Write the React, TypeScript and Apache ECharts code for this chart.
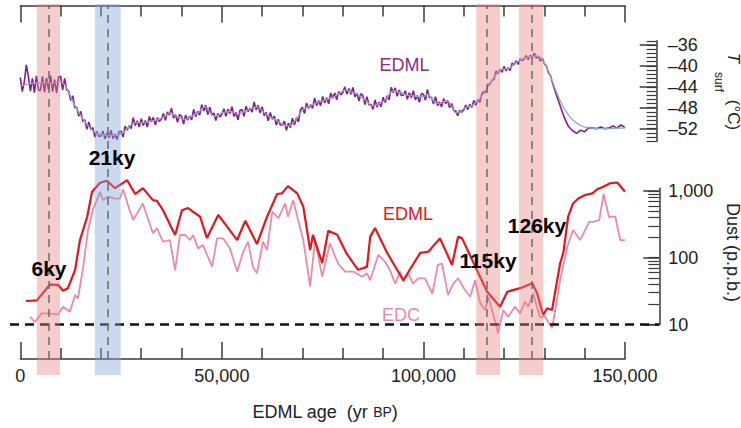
import React, { useEffect, useRef } from "react";
import * as echarts from "echarts";

// ---------- DATA ----------
// x axis (years BP)
const xTickValues = [0, 50000, 100000, 150000];
const xTickLabels = ["0", "50,000", "100,000", "150,000"];

// Temperature axis
const tempLabelValues = [-52, -48, -44, -40, -36];

// Dust axis
const dustMinorTicks = [10, 20, 30, 40, 50, 60, 70, 80, 90, 100, 200, 300, 400, 500, 600, 700, 800, 900, 1000];
const dustLabelValues = [10, 100, 1000];
const dustLabelText = ["10", "100", "1,000"];

// EDML surface temperature, high resolution, 0.5 kyr steps from 0 to 131.5 kyr
const tempFineStartKyr = 0;
const tempFineStepKyr = 0.5;
const tempFine = [
  -42.2, -44.9, -43.0, -39.8, -42.0, -44.8, -42.4, -45.1, -41.9, -44.6,
  -44.7, -42.0, -45.0, -42.3, -44.6, -41.8, -44.9, -42.6, -45.2, -42.1,
  -42.0, -44.6, -42.4, -44.6, -44.8, -46.6, -45.7, -48.0, -47.9, -49.6,
  -48.7, -50.6, -50.3, -52.1, -50.7, -52.2, -51.8, -53.6, -52.5, -53.5,
  -53.4, -52.45, -54.0, -52.8, -53.8, -52.3, -53.9, -53.05, -54.1, -52.55,
  -52.5, -53.6, -51.5, -52.3, -51.4, -52.0, -49.9, -51.4, -50.5, -51.65,
  -50.1, -51.4, -50.45, -51.7, -49.7, -50.7, -49.85, -51.3, -49.9, -50.6,
  -50.2, -49.1, -50.4, -48.8, -49.4, -48.1, -50.0, -49.3, -50.8, -49.3,
  -49.6, -51.1, -49.4, -50.35, -49.6, -50.3, -48.3, -49.7, -48.7, -49.4,
  -47.4, -48.6, -47.5, -49.3, -47.9, -49.4, -49.0, -50.45, -49.1, -49.75,
  -49.3, -48.2, -49.65, -48.3, -49.1, -47.8, -49.65, -48.9, -50.3, -48.45,
  -48.4, -49.65, -47.7, -48.75, -48.1, -48.85, -46.9, -48.4, -47.5, -49.0,
  -47.8, -49.5, -48.9, -50.5, -48.9, -50.2, -49.6, -51.3, -50.2, -51.3,
  -51.3, -50.55, -52.3, -50.95, -51.8, -50.0, -51.3, -49.9, -50.7, -48.4,
  -47.9, -49.1, -47.1, -48.1, -47.4, -48.1, -46.15, -47.6, -46.6, -47.6,
  -45.85, -47.1, -46.1, -47.25, -45.2, -46.15, -45.2, -46.45, -44.9, -45.55,
  -45.1, -44.0, -45.4, -44.3, -45.4, -44.1, -45.9, -45.2, -46.7, -45.3,
  -45.7, -47.4, -45.9, -47.5, -47.4, -48.3, -46.5, -47.9, -46.9, -47.8,
  -46.0, -47.0, -45.7, -46.5, -44.1, -45.1, -44.2, -45.8, -44.6, -45.65,
  -45.6, -44.75, -46.4, -45.15, -46.1, -44.75, -46.5, -45.65, -46.95, -45.3,
  -45.4, -46.55, -44.5, -46.1, -46.0, -47.3, -45.9, -47.6, -46.9, -47.8,
  -46.25, -47.2, -46.6, -48.0, -47.2, -48.55, -48.6, -49.5, -48.5, -48.85,
  -48.4, -47.5, -48.35, -47.35, -47.9, -46.6, -47.5, -46.45, -46.95, -45.3,
  -44.9, -45.15, -43.45, -43.6, -42.7, -42.6, -40.95, -41.5, -40.6, -41.2,
  -40.1, -40.95, -40.4, -40.9, -39.45, -39.8, -39.05, -39.7, -38.65, -39.0,
  -38.7, -38.0, -38.8, -37.95, -38.45, -37.55, -38.5, -38.15, -39.05, -38.55,
  -39.6, -40.0, -41.3, -41.8,
];
// EDML surface temperature, lower resolution, 1 kyr steps from 132 to 150 kyr
const tempCoarseStartKyr = 132;
const tempCoarseStepKyr = 1;
const tempCoarse = [
  -43.2, -45.6, -47.8, -50.0, -51.6, -52.4, -52.9, -52.3, -52.6, -51.8,
  -51.9, -52.0, -51.7, -52.0, -51.9, -51.5, -51.9, -51.3, -51.8,
];

// Smoothed temperature curve
const tempSmoothAge = [
  0, 2, 4, 6, 8, 10, 11, 12, 13, 14, 15, 16, 17, 18, 19, 20, 21, 22, 23, 24, 25, 26, 27, 28, 29, 30,
  32, 34, 36, 37, 38, 40, 41, 42, 44, 45, 46, 47, 48, 49, 50, 52, 54, 56, 58, 59, 60, 62, 64, 66,
  67, 68, 69, 70, 71, 72, 74, 76, 78, 80, 81, 82, 83, 84, 86, 87, 88, 89, 90, 91, 92, 93, 94, 95,
  96, 98, 100, 101, 102, 103, 104, 105, 106, 107, 108, 109, 110, 111, 112, 113, 114, 115, 116, 117,
  118, 119, 120, 121, 122, 123, 124, 125, 126, 127, 128, 129, 130, 131, 132, 133, 134, 135, 136,
  137, 138, 139, 140, 142, 144, 146, 148, 150,
];
const tempSmoothVal = [
  -43.8, -43.5, -43.2, -43.2, -43.3, -43.0, -43.6, -45.0, -46.8, -48.2, -49.5, -50.6, -51.6, -52.4,
  -52.9, -53.1, -53.2, -53.4, -53.2, -53.3, -53.0, -52.4, -51.6, -51.0, -50.8, -50.9,
  -50.6, -50.3, -49.6, -49.0, -49.3, -50.1, -50.3, -49.8, -49.0, -48.2, -47.8, -48.8, -49.6, -49.5,
  -49.0, -48.7, -49.2, -48.6, -48.0, -47.8, -48.6, -49.8, -50.6, -51.5,
  -51.4, -50.6, -49.6, -48.4, -48.0, -47.6, -46.9, -46.4, -45.8, -44.8, -44.6, -45.0, -45.2, -45.6,
  -46.8, -47.6, -47.6, -47.2, -46.8, -46.0, -45.0, -44.8, -45.0, -45.3,
  -45.6, -45.8, -45.9, -45.4, -46.2, -47.0, -47.2, -46.8, -46.8, -47.8, -49.0, -48.8, -48.2, -47.8,
  -47.6, -47.0, -46.2, -45.2, -44.0, -42.8,
  -41.6, -40.8, -40.6, -40.6, -40.0, -39.4, -38.9, -38.5, -38.3, -38.2, -38.1, -38.4, -39.4, -41.0,
  -43.0, -45.0, -46.8, -48.2, -49.4,
  -50.3, -50.9, -51.4, -51.7, -51.9, -52.0, -52.0, -51.9, -51.9,
];

// Dust EDML (p.p.b.)
const dustEdmlAge = [
  1.4, 4.1, 7.4, 9.4, 10.6, 11.8, 13.6, 14.8, 16.6, 17.8, 19.8, 21.5, 23.5, 26.5, 28.5, 30.4, 32.9,
  33.9, 35.4, 38.4, 40.1, 41.6, 44.6, 46.3, 49.1, 51.3, 53.8, 55.8, 58.7, 61.2, 63.7, 64.9, 66.4,
  68.7, 70.2, 71.9, 72.6, 74.9, 76.4, 78.6, 80.9, 82.6, 83.8, 86.0, 86.8, 88.0, 91.0, 95.0, 99.2,
  101.2, 104.1, 107.1, 108.6, 109.6, 112.1, 115.8, 119.0, 120.8, 124.0, 127.0, 128.2, 129.7, 130.7,
  131.9, 133.9, 134.7, 135.9, 137.1, 138.4, 140.1, 141.9, 143.1, 144.6, 146.3, 148.1, 150.0,
];
const dustEdmlVal = [
  22.5, 23, 40, 39, 32, 35, 66, 184, 411, 975, 1330, 1420, 1100, 1450, 900, 1100, 730,
  710, 515, 219, 515, 555, 411, 197, 436, 292, 184, 357, 160, 411, 900, 920, 1180,
  920, 580, 130, 220, 83, 254, 220, 117, 83, 66, 73, 207, 278, 118, 46, 118,
  123, 195, 78, 207, 195, 92, 31, 18.5, 31, 35, 41.5, 29.3, 13.9, 17.5,
  16.5, 82, 118, 411, 650, 770, 870, 920, 1060, 1160, 1300, 1340, 975,
];

// Dust EDC (p.p.b.)
const dustEdcAge = [
  2.4, 3.6, 5.3, 6.9, 9.4, 10.6, 12.3, 13.6, 14.3, 15.6, 16.8, 18.0, 19.8, 20.5, 21.8, 23.5, 24.7,
  25.5, 26.7, 28.0, 30.4, 32.9, 33.9, 35.4, 37.1, 38.4, 39.6, 40.9, 42.1, 42.9, 44.1, 45.3, 47.6,
  48.8, 50.3, 52.0, 53.8, 55.3, 56.5, 57.7, 58.7, 60.2, 61.2, 62.5, 64.0, 65.7, 66.4, 67.7, 68.9,
  70.2, 71.9, 73.1, 74.9, 76.8, 78.8, 80.6, 82.6, 84.8, 86.0, 86.8, 88.8, 90.5, 91.7, 93.0, 94.2,
  95.0, 96.2, 97.4, 98.7, 100.4, 102.2, 103.6, 104.6, 106.1, 107.4, 108.6, 110.3, 111.6, 112.8,
  114.1, 115.3, 116.1, 117.8, 118.5, 119.8, 121.0, 122.7, 124.0, 125.2, 126.0, 127.2, 128.9, 130.2,
  131.9, 132.7, 133.9, 135.7, 137.1, 138.9, 141.1, 142.1, 143.6, 144.7, 146.0, 147.6, 148.8, 150.0,
];
const dustEdcVal = [
  13.1, 10.9, 14.7, 14.7, 14.2, 18.5, 15.5, 27.6, 24.6, 73, 260, 520, 970, 730, 820, 770, 770,
  1060, 615, 366, 650, 232, 275, 174, 184, 65, 219, 219, 184, 219, 138, 155, 73,
  195, 195, 138, 62, 123, 174, 73, 58.5, 174, 130, 490, 390, 650, 411, 730, 366,
  184, 36.8, 184, 52, 164, 82, 62, 62, 52, 58.5, 46, 110, 87, 65, 41, 62,
  44, 58.5, 41, 49, 49, 29, 78, 82, 27.6, 41, 49, 32.8, 26, 46,
  20.7, 16.5, 26, 11, 7.4, 16.5, 13, 18.5, 14.7, 22, 18.5, 29, 13, 13,
  8.8, 16.5, 46, 146, 260, 184, 345, 345, 366, 900, 411, 411, 184, 184,
];

// Highlighted periods (kyr)
const bandFrom = [4.1, 18.5, 113.1, 123.7];
const bandTo = [9.85, 24.9, 119.0, 129.7];
const bandKind = ["warm", "cold", "warm", "warm"];
const eventAges = [7.0, 21.7, 115.7, 126.8];
const dustReference = 10;

// ---------- STYLE ----------
const FONT = '"Liberation Sans", Arial, Helvetica, sans-serif';
const AXIS = "#3a3a3a";
const TXT = "#222";
const PURPLE = "#8a1c86";
const SMOOTH = "#8fa6cf";
const RED = "#e3161d";
const PINK = "#ec8aa8";

const KYR = 1000;
const PX_PER_YR = 604.7 / 150000;

function buildOption() {
  const fine = tempFine.map((v, i) => [(tempFineStartKyr + i * tempFineStepKyr) * KYR, v]);
  const coarse = tempCoarse.map((v, i) => [(tempCoarseStartKyr + i * tempCoarseStepKyr) * KYR, v]);
  const tempSeries = fine.concat(coarse);
  const smooth = tempSmoothAge.map((a, i) => [a * KYR, tempSmoothVal[i]]);
  const edml = dustEdmlAge.map((a, i) => [a * KYR, dustEdmlVal[i]]);
  const edc = dustEdcAge.map((a, i) => [a * KYR, dustEdcVal[i]]);

  const dustLeftPx = 10;
  const dustRightPx = 659.3;
  const dustMin = -(20.3 - dustLeftPx) / PX_PER_YR;
  const dustMax = 150000 + (dustRightPx - 625) / PX_PER_YR;

  const axisLine = { show: true, onZero: false, lineStyle: { color: AXIS, width: 1.5 } };
  const noLine = { show: false, onZero: false };
  const tickLine = { color: AXIS, width: 1.5 };

  const tempGrid = () => ({ left: 20.3, width: 604.7, top: 40.84, height: 100.36, outerBoundsMode: "none" });
  const dustGrid = () => ({ left: dustLeftPx, width: dustRightPx - dustLeftPx, top: 188.2, height: 136.3, outerBoundsMode: "none" });

  return {
    animation: false,
    backgroundColor: "#ffffff",
    grid: [
      { left: 20.3, width: 604.7, top: 4, height: 371, outerBoundsMode: "none" },
      tempGrid(),
      dustGrid(),
      { left: 20.3, width: 604.7, top: 5.5, height: 353.5, outerBoundsMode: "none" },
      tempGrid(),
      dustGrid(),
    ],
    xAxis: [
      { gridIndex: 0, type: "value", min: 0, max: 150000, show: false, axisLine: noLine },
      { gridIndex: 1, type: "value", min: 0, max: 150000, show: false, axisLine: noLine },
      { gridIndex: 2, type: "value", min: dustMin, max: dustMax, show: false, axisLine: noLine },
      {
        gridIndex: 3, type: "value", position: "bottom", min: 0, max: 150000, interval: 50000,
        axisLine, splitLine: { show: false },
        axisTick: { show: true, inside: true, length: 17, lineStyle: tickLine },
        minorTick: { show: true, splitNumber: 5, length: 11, lineStyle: tickLine },
        minorSplitLine: { show: false },
        axisLabel: {
          show: true, margin: 8, color: TXT, fontSize: 18, fontFamily: FONT,
          formatter: (v: number) => xTickLabels[xTickValues.indexOf(Math.round(v))] ?? "",
        },
      },
      {
        gridIndex: 3, type: "value", position: "top", min: 0, max: 150000, interval: 50000,
        axisLine, splitLine: { show: false },
        axisTick: { show: true, inside: true, length: 17, lineStyle: tickLine },
        minorTick: { show: true, splitNumber: 5, length: 11, lineStyle: tickLine },
        minorSplitLine: { show: false },
        axisLabel: { show: false },
      },
      { gridIndex: 4, type: "value", min: 0, max: 150000, show: false, axisLine: noLine },
      { gridIndex: 5, type: "value", min: dustMin, max: dustMax, show: false, axisLine: noLine },
    ],
    yAxis: [
      { gridIndex: 0, type: "value", min: 0, max: 1, show: false, axisLine: noLine },
      {
        gridIndex: 1, type: "value", position: "right", offset: 31.7,
        min: -54.4, max: -35.2, interval: 0.8,
        axisLine, splitLine: { show: false },
        axisTick: { show: true, inside: true, length: 10, lineStyle: { color: AXIS, width: 1.2 } },
        axisLabel: { show: false },
      },
      {
        gridIndex: 2, type: "log", logBase: 10, position: "right", offset: 0,
        min: 10, max: 1100,
        axisLine, splitLine: { show: false }, minorTick: { show: false },
        axisTick: { show: true, inside: true, length: 11, customValues: dustMinorTicks, lineStyle: { color: AXIS, width: 1.2 } },
        axisLabel: { show: false },
      },
      { gridIndex: 3, type: "value", min: 0, max: 1, show: false, axisLine: noLine },
      {
        gridIndex: 4, type: "value", position: "right", offset: 31.7,
        min: -54.4, max: -35.2,
        axisLine: noLine, splitLine: { show: false },
        axisTick: { show: true, inside: true, length: 17, customValues: tempLabelValues, lineStyle: tickLine },
        axisLabel: {
          show: true, customValues: tempLabelValues, margin: 11, color: TXT, fontSize: 18, fontFamily: FONT,
          formatter: (v: number) => "\u2013" + Math.abs(Math.round(v)),
        },
      },
      {
        gridIndex: 5, type: "log", logBase: 10, position: "right", offset: 0,
        min: 10, max: 1100,
        axisLine: noLine, splitLine: { show: false }, minorTick: { show: false },
        axisTick: { show: true, inside: true, length: 16, customValues: dustLabelValues, lineStyle: tickLine },
        axisLabel: {
          show: true, customValues: dustLabelValues, margin: 9, color: TXT, fontSize: 18, fontFamily: FONT,
          formatter: (v: number) => dustLabelText[dustLabelValues.indexOf(Math.round(v))] ?? "",
        },
      },
    ],
    series: [
      {
        type: "line", xAxisIndex: 1, yAxisIndex: 1, data: tempSeries, showSymbol: false, silent: true, z: 2,
        lineStyle: { color: PURPLE, width: 1.6 },
      },
      {
        type: "line", xAxisIndex: 1, yAxisIndex: 1, data: smooth, showSymbol: false, silent: true, z: 3,
        smooth: 0.3, lineStyle: { color: SMOOTH, width: 1.3 },
      },
      {
        type: "line", xAxisIndex: 2, yAxisIndex: 2, data: edc, showSymbol: false, silent: true, z: 2, clip: false,
        lineStyle: { color: PINK, width: 1.8 },
      },
      {
        type: "line", xAxisIndex: 2, yAxisIndex: 2, data: edml, showSymbol: false, silent: true, z: 3, clip: false,
        lineStyle: { color: RED, width: 2.2 },
        markLine: {
          silent: true, symbol: ["none", "none"], label: { show: false },
          lineStyle: { color: "#111", width: 2.5, type: [9, 6] },
          data: [{ yAxis: dustReference }],
        },
      },
      {
        type: "line", xAxisIndex: 0, yAxisIndex: 0, data: [], silent: true, z: 10,
        markArea: {
          silent: true, z: 10,
          data: bandFrom.map((f, i) => [
            {
              xAxis: f * KYR,
              itemStyle: {
                color: bandKind[i] === "cold" ? "rgba(130,165,215,0.42)" : "rgba(230,130,130,0.4)",
              },
            },
            { xAxis: bandTo[i] * KYR },
          ]),
        },
        markLine: {
          silent: true, z: 11, symbol: ["none", "none"], label: { show: false },
          lineStyle: { color: "#6b6b6b", width: 1.5, type: [8, 6] },
          data: eventAges.map((a) => [{ coord: [a * KYR, 0.043] }, { coord: [a * KYR, 0.997] }]),
        },
      },
    ],
    graphic: [
      { type: "text", x: 404.5, y: 65, z: 20, style: { text: "EDML", fill: "#8b2b8b", fontSize: 18, fontFamily: FONT, align: "center", verticalAlign: "middle" } },
      { type: "text", x: 408, y: 213.5, z: 20, style: { text: "EDML", fill: RED, fontSize: 18, fontFamily: FONT, align: "center", verticalAlign: "middle" } },
      { type: "text", x: 401, y: 314.5, z: 20, style: { text: "EDC", fill: PINK, fontSize: 18, fontFamily: FONT, align: "center", verticalAlign: "middle" } },
      { type: "text", x: 49, y: 268, z: 20, style: { text: "6ky", fill: "#000", fontSize: 21, fontWeight: "bold", fontFamily: FONT, align: "center", verticalAlign: "middle" } },
      { type: "text", x: 112, y: 157, z: 20, style: { text: "21ky", fill: "#000", fontSize: 21, fontWeight: "bold", fontFamily: FONT, align: "center", verticalAlign: "middle" } },
      { type: "text", x: 488, y: 260, z: 20, style: { text: "115ky", fill: "#000", fontSize: 21, fontWeight: "bold", fontFamily: FONT, align: "center", verticalAlign: "middle" } },
      { type: "text", x: 537, y: 225, z: 20, style: { text: "126ky", fill: "#000", fontSize: 21, fontWeight: "bold", fontFamily: FONT, align: "center", verticalAlign: "middle" } },
      {
        type: "text", x: 325, y: 412, z: 20,
        style: {
          text: "{a|EDML age  (yr }{b|BP}{a|)}", align: "center", verticalAlign: "middle",
          rich: {
            a: { fontSize: 18, fontFamily: FONT, fill: TXT },
            b: { fontSize: 14, fontFamily: FONT, fill: TXT },
          },
        },
      },
      { type: "text", x: 733, y: 58, rotation: -Math.PI / 2, z: 20, style: { text: "T", fill: TXT, fontSize: 17, fontStyle: "italic", fontFamily: FONT, align: "center", verticalAlign: "middle" } },
      { type: "text", x: 719, y: 82, rotation: -Math.PI / 2, z: 20, style: { text: "surf", fill: TXT, fontSize: 12, fontFamily: FONT, align: "center", verticalAlign: "middle" } },
      { type: "text", x: 733, y: 115, rotation: -Math.PI / 2, z: 20, style: { text: "(\u00B0C)", fill: TXT, fontSize: 17, fontFamily: FONT, align: "center", verticalAlign: "middle" } },
      { type: "text", x: 732.5, y: 252.5, rotation: -Math.PI / 2, z: 20, style: { text: "Dust (p.p.b.)", fill: TXT, fontSize: 18, fontFamily: FONT, align: "center", verticalAlign: "middle" } },
    ],
  };
}

export default function App() {
  const ref = useRef<HTMLDivElement>(null);
  useEffect(() => {
    if (!ref.current) return;
    const chart = echarts.init(ref.current, undefined, { renderer: "svg" });
    chart.setOption(buildOption() as any);
    return () => chart.dispose();
  }, []);
  return (
    <div
      ref={ref}
      style={{ position: "fixed", left: 0, top: 0, width: 741, height: 428, background: "#fff" }}
    />
  );
}
